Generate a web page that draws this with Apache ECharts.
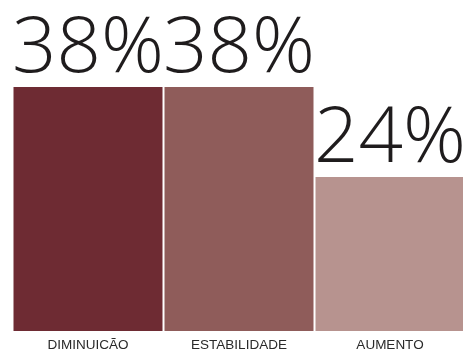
<!DOCTYPE html>
<html>
<head>
<meta charset="utf-8">
<script src="https://cdn.jsdelivr.net/npm/echarts@6/dist/echarts.min.js"></script>
<style>
  html, body { margin: 0; padding: 0; background: #ffffff; overflow: hidden; }
  #chart { width: 463px; height: 349px; }
</style>
</head>
<body>
<div id="chart"></div>
<script>
// Share of answers per category (percent)
const categories = ['DIMINUIÇÃO', 'ESTABILIDADE', 'AUMENTO'];
const values = [38, 38, 24];
const barColors = ['#6e2b33', '#8f5c5a', '#b7938f'];

const chart = echarts.init(document.getElementById('chart'), null, { renderer: 'canvas' });

chart.setOption({
  animation: false,
  backgroundColor: '#ffffff',
  grid: { left: 12.5, right: -2.5, top: 87, bottom: 18, containLabel: false, outerBoundsMode: 'none' },
  xAxis: {
    type: 'category',
    data: categories,
    axisLine: { show: false },
    axisTick: { show: false },
    axisLabel: {
      margin: 7,
      color: '#2a2a2a',
      fontFamily: 'Liberation Sans',
      fontSize: 13.5,
      interval: 0
    }
  },
  yAxis: {
    type: 'value',
    min: 0,
    max: 38,
    show: false,
    splitLine: { show: false }
  },
  series: [{
    type: 'bar',
    barWidth: 149,
    data: values.map((v, i) => ({ value: v, itemStyle: { color: barColors[i] } })),
    label: {
      show: true,
      position: 'top',
      distance: -2,
      formatter: '{c}%',
      color: '#1f1c1d',
      fontFamily: 'Open Sans',
      fontWeight: 300,
      fontSize: 78
    }
  }]
});
</script>
</body>
</html>
